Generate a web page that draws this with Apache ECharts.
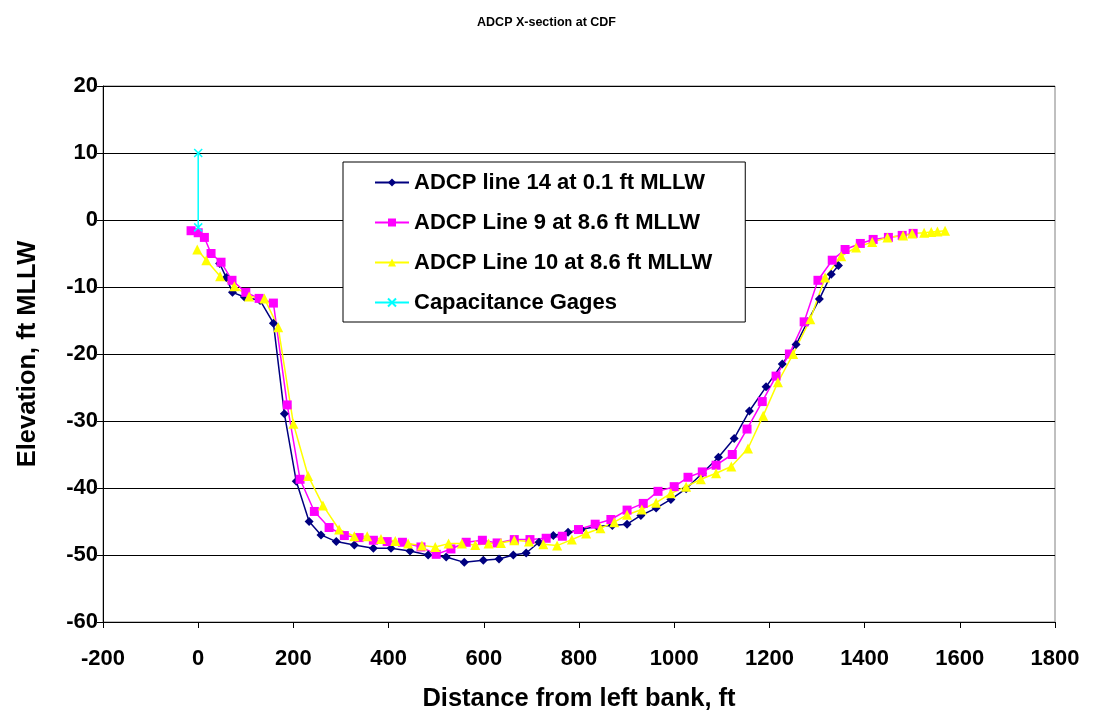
<!DOCTYPE html>
<html>
<head>
<meta charset="utf-8">
<script src="https://cdn.jsdelivr.net/npm/echarts@6/dist/echarts.min.js"></script>
<style>
    html, body { margin: 0; padding: 0; background: #fff; }
    #chart { width: 1093px; height: 717px; }
</style>
</head>
<body>
<div id="chart"></div>
<script>
/* Values: [distance ft, elevation ft MLLW]. */
const line14 = [
    [45, -6.5], [59, -8.6], [72, -10.8], [97, -11.5], [130, -12.0], [158, -15.4],
    [181, -28.9], [206, -39.0], [233, -45.0], [258, -47.0], [290, -48.0], [328, -48.5],
    [368, -49.0], [405, -49.0], [445, -49.4], [483, -50.0], [521, -50.3], [559, -51.1],
    [599, -50.8], [632, -50.6], [662, -50.0], [689, -49.7], [716, -48.1], [746, -47.1],
    [777, -46.6], [805, -46.2], [838, -45.7], [870, -45.6], [901, -45.4], [930, -44.1],
    [962, -43.0], [993, -41.7], [1025, -40.1], [1059, -37.8], [1093, -35.4], [1126, -32.6],
    [1158, -28.5], [1193, -24.9], [1227, -21.5], [1256, -18.6], [1280, -15.2], [1305, -11.8],
    [1330, -8.1], [1345, -6.8]
];
const line9 = [
    [-15, -1.6], [0, -1.9], [13, -2.6], [27, -5.0], [48, -6.3], [71, -9.0],
    [100, -10.8], [128, -11.7], [158, -12.4], [187, -27.6], [214, -38.7], [244, -43.5],
    [275, -45.9], [307, -47.1], [338, -47.4], [368, -47.8], [397, -48.0], [429, -48.1],
    [468, -48.8], [500, -49.9], [531, -49.1], [563, -48.1], [597, -47.8], [628, -48.2],
    [664, -47.7], [697, -47.7], [731, -47.5], [765, -47.2], [799, -46.2], [834, -45.4],
    [867, -44.7], [901, -43.3], [935, -42.3], [966, -40.5], [1000, -39.8], [1029, -38.4],
    [1059, -37.6], [1088, -36.6], [1122, -35.0], [1153, -31.2], [1185, -27.1], [1214, -23.3],
    [1242, -20.0], [1273, -15.2], [1302, -9.0], [1332, -6.0], [1359, -4.4], [1391, -3.5],
    [1418, -2.9], [1450, -2.6], [1479, -2.3], [1502, -2.0]
];
const line10 = [
    [-2, -4.4], [17, -6.0], [46, -8.4], [76, -9.9], [107, -11.4], [139, -11.7],
    [168, -16.0], [200, -30.4], [231, -38.2], [262, -42.6], [296, -46.2], [328, -47.2],
    [355, -47.2], [384, -47.6], [414, -47.9], [441, -48.3], [470, -48.6], [498, -48.8],
    [526, -48.3], [554, -48.3], [582, -48.5], [610, -48.3], [636, -48.2], [664, -47.8],
    [695, -48.0], [725, -48.4], [754, -48.6], [785, -47.7], [815, -46.8], [845, -46.0],
    [874, -45.1], [901, -44.0], [932, -43.2], [962, -42.2], [993, -40.8], [1025, -39.8],
    [1056, -38.7], [1088, -37.8], [1120, -36.8], [1155, -34.1], [1187, -29.2], [1218, -24.2],
    [1250, -20.0], [1286, -14.8], [1317, -8.6], [1351, -5.4], [1382, -4.1], [1416, -3.3],
    [1448, -2.6], [1481, -2.3], [1500, -2.0], [1525, -1.9], [1540, -1.8], [1553, -1.7],
    [1569, -1.6]
];
const gages = [[0, 10], [0, -1.1]];

const seriesNames = [
    'ADCP line 14 at 0.1 ft MLLW',
    'ADCP Line 9 at 8.6 ft MLLW',
    'ADCP Line 10 at 8.6 ft MLLW',
    'Capacitance Gages'
];

const FONT = 'Liberation Sans, Arial, sans-serif';
const TICK_LABEL = { color: '#000', fontFamily: FONT, fontWeight: 'bold', fontSize: 22 };
const AXIS_NAME = { color: '#000', fontFamily: FONT, fontWeight: 'bold', fontSize: 25.5 };

chart = echarts.init(document.getElementById('chart'));

let option = {
    animation: false,
    title: {
        text: 'ADCP X-section at CDF',
        left: 'center',
        top: 11,
        textStyle: { color: '#000', fontFamily: FONT, fontWeight: 'bold', fontSize: 12.5 }
    },
    grid: {
        left: 103,
        right: 38,
        top: 86,
        bottom: 93,
        show: true,
        borderColor: '#808080',
        borderWidth: 1
    },
    legend: {
        orient: 'vertical',
        left: 343,
        top: 162,
        padding: [8, 33, 7, 31],
        itemGap: 15,
        itemWidth: 34,
        itemHeight: 10,
        backgroundColor: '#fff',
        borderColor: '#000',
        borderWidth: 1,
        textStyle: { color: '#000', fontFamily: FONT, fontWeight: 'bold', fontSize: 22, lineHeight: 25 },
        data: seriesNames
    },
    xAxis: {
        type: 'value',
        min: -200,
        max: 1800,
        interval: 200,
        name: 'Distance from left bank, ft',
        nameLocation: 'middle',
        nameGap: 64,
        nameTextStyle: AXIS_NAME,
        axisLine: { onZero: false, lineStyle: { color: '#000', width: 1 } },
        axisTick: { show: true, length: 6, lineStyle: { color: '#000' } },
        axisLabel: Object.assign({
            margin: 26,
            formatter: function (v) { return String(v); }
        }, TICK_LABEL),
        splitLine: { show: false }
    },
    yAxis: {
        type: 'value',
        min: -60,
        max: 20,
        interval: 10,
        name: 'Elevation, ft MLLW',
        nameLocation: 'middle',
        nameGap: 62,
        nameRotate: 90,
        nameTextStyle: AXIS_NAME,
        axisLine: { show: true, onZero: false, lineStyle: { color: '#000', width: 1 } },
        axisTick: { show: true, length: 6, lineStyle: { color: '#000' } },
        axisLabel: Object.assign({ margin: 5 }, TICK_LABEL),
        splitLine: { show: true, lineStyle: { color: '#000', width: 1 } }
    },
    series: [
        {
            name: seriesNames[0],
            type: 'line',
            data: line14,
            symbol: 'diamond',
            symbolSize: 9,
            lineStyle: { color: '#000080', width: 1.5 },
            itemStyle: { color: '#000080' }
        },
        {
            name: seriesNames[1],
            type: 'line',
            data: line9,
            symbol: 'rect',
            symbolSize: 9,
            lineStyle: { color: '#FF00FF', width: 1.5 },
            itemStyle: { color: '#FF00FF' }
        },
        {
            name: seriesNames[2],
            type: 'line',
            data: line10,
            symbol: 'triangle',
            symbolSize: 10,
            lineStyle: { color: '#FFFF00', width: 1.5 },
            itemStyle: { color: '#FFFF00' }
        },
        {
            name: seriesNames[3],
            type: 'line',
            data: gages,
            symbol: 'path://M0,0L10,10M10,0L0,10',
            symbolSize: 8,
            lineStyle: { color: '#00FFFF', width: 1.5 },
            itemStyle: { color: '#00FFFF', borderColor: '#00FFFF', borderWidth: 1.5 }
        }
    ]
};
chart.setOption(option);

window.addEventListener('resize', function () {
    chart?.resize();
});
</script>
</body>
</html>
